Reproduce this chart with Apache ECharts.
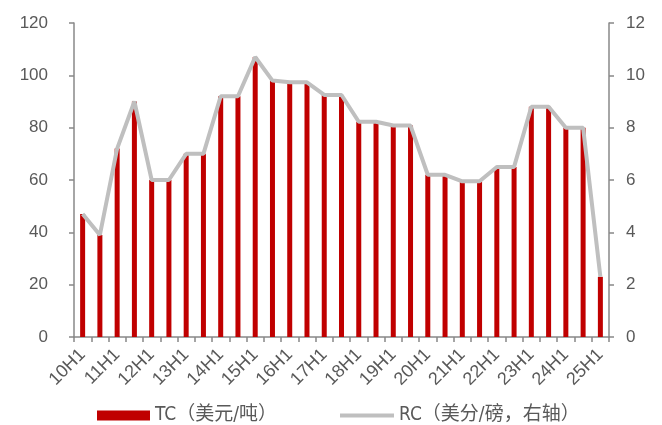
<!DOCTYPE html>
<html><head><meta charset="utf-8">
<script src="https://cdn.jsdelivr.net/npm/echarts@6/dist/echarts.min.js"></script>
<style>html,body{margin:0;padding:0;background:#fff}#c{width:662px;height:425px}</style>
</head><body><div id="c"></div>
<script>
const categories = ['10H1','10H2','11H1','11H2','12H1','12H2','13H1','13H2','14H1','14H2','15H1','15H2','16H1','16H2','17H1','17H2','18H1','18H2','19H1','19H2','20H1','20H2','21H1','21H2','22H1','22H2','23H1','23H2','24H1','24H2','25H1'];
const tcValues = [47,39,72,90,60,60,70,70,92,92,107,98,97.35,97.35,92.5,92.5,82.25,82.25,80.8,80.8,62,62,59.5,59.5,65,65,88,88,80,80,23];
const rcValues = [4.7,3.9,7.2,9.0,6.0,6.0,7.0,7.0,9.2,9.2,10.7,9.8,9.735,9.735,9.25,9.25,8.225,8.225,8.08,8.08,6.2,6.2,5.95,5.95,6.5,6.5,8.8,8.8,8.0,8.0,2.3];
const leftTicks = {min:0,max:120,interval:20};
const rightTicks = {min:0,max:12,interval:2};
const seriesNames = ['TC（美元/吨）','RC（美分/磅，右轴）'];

const chart = echarts.init(document.getElementById('c'));
const axisGray = '#888888';
const textGray = '#595959';
const axisFont = 'Arial, "Liberation Sans", sans-serif';
const legendFont = '"DejaVu Sans Condensed", "Noto Sans CJK SC", sans-serif';
const legendBase = {
  top:401,itemGap:0,itemWidth:53,itemHeight:10,
  textStyle:{color:textGray,fontSize:19,fontFamily:legendFont,padding:[0,0,0,0]}
};
chart.setOption({
  animation:false,
  legend:[
    Object.assign({},legendBase,{left:92,data:[{name:seriesNames[0],icon:'rect'}]}),
    Object.assign({},legendBase,{left:333,itemWidth:54,lineStyle:{width:4,color:'#BFBFBF'},
      data:[{name:seriesNames[1],itemStyle:{opacity:0}}]})
  ],
  grid:{left:74,right:53,top:23,bottom:88},
  xAxis:{
    type:'category',data:categories,boundaryGap:true,
    axisLine:{lineStyle:{color:axisGray,width:1.5}},
    axisTick:{show:true,interval:0,length:5,lineStyle:{color:axisGray,width:1.5}},
    axisLabel:{interval:1,rotate:45,color:textGray,fontSize:18,margin:15,fontFamily:axisFont}
  },
  yAxis:[
    {type:'value',min:leftTicks.min,max:leftTicks.max,interval:leftTicks.interval,
     splitLine:{show:false},
     axisLine:{show:true,lineStyle:{color:axisGray,width:1.5}},
     axisTick:{show:true,length:5,lineStyle:{color:axisGray,width:1.5}},
     axisLabel:{color:textGray,fontSize:17,margin:26,fontFamily:axisFont}},
    {type:'value',min:rightTicks.min,max:rightTicks.max,interval:rightTicks.interval,
     splitLine:{show:false},
     axisLine:{show:true,lineStyle:{color:axisGray,width:1.5}},
     axisTick:{show:true,length:5,lineStyle:{color:axisGray,width:1.5}},
     axisLabel:{color:textGray,fontSize:17,margin:17,fontFamily:axisFont}}
  ],
  series:[
    {name:seriesNames[0],type:'bar',data:tcValues,barWidth:5,itemStyle:{color:'#C00000'},yAxisIndex:0},
    {name:seriesNames[1],type:'line',data:rcValues,yAxisIndex:1,symbol:'none',
     lineStyle:{color:'#BFBFBF',width:4},itemStyle:{color:'#BFBFBF'}}
  ]
});
</script></body></html>
